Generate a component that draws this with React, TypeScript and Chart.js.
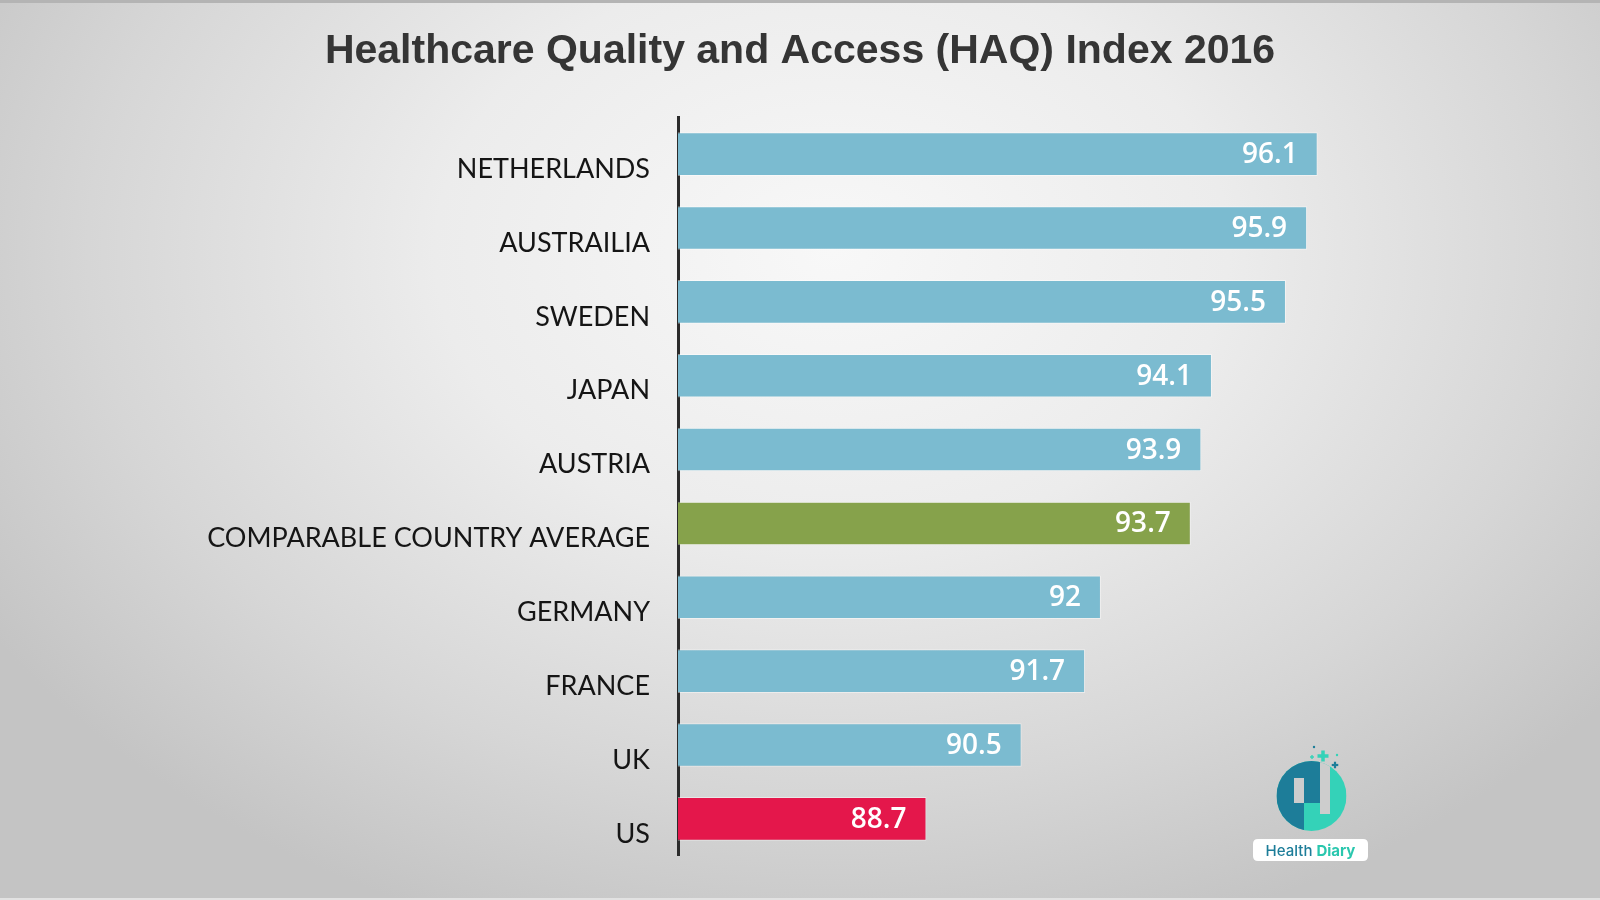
import React, { useEffect, useRef } from "react";
import { Chart, registerables } from "chart.js";

Chart.register(...registerables);

const categories: string[] = [
  "NETHERLANDS",
  "AUSTRAILIA",
  "SWEDEN",
  "JAPAN",
  "AUSTRIA",
  "COMPARABLE COUNTRY AVERAGE",
  "GERMANY",
  "FRANCE",
  "UK",
  "US",
];
const haqValues: number[] = [96.1, 95.9, 95.5, 94.1, 93.9, 93.7, 92, 91.7, 90.5, 88.7];
const valueLabels: string[] = ["96.1", "95.9", "95.5", "94.1", "93.9", "93.7", "92", "91.7", "90.5", "88.7"];
const barColors: string[] = [
  "#7bbbd0",
  "#7bbbd0",
  "#7bbbd0",
  "#7bbbd0",
  "#7bbbd0",
  "#86a24b",
  "#7bbbd0",
  "#7bbbd0",
  "#7bbbd0",
  "#e4174b",
];
const titleText = "Healthcare Quality and Access (HAQ) Index 2016";

const valueLabelPlugin = {
  id: "valueLabels",
  afterDatasetsDraw(chart: any) {
    const ctx = chart.ctx;
    const meta = chart.getDatasetMeta(0);
    ctx.save();
    ctx.font = "600 28px 'Open Sans'";
    ctx.fillStyle = "#ffffff";
    ctx.textAlign = "right";
    ctx.textBaseline = "middle";
    meta.data.forEach((bar: any, i: number) => {
      ctx.fillText(valueLabels[i], bar.x - 20, bar.y + 1);
    });
    ctx.restore();
  },
};

const logoPlugin = {
  id: "logo",
  afterDraw(chart: any) {
    const ctx = chart.ctx;
    const cx = 1311.5;
    const cy = 796;
    const r = 35;
    const dark = "#1d7d99";
    const teal = "#34d2b8";
    const gap = "#cdcdcd";
    ctx.save();
    ctx.beginPath();
    ctx.arc(cx, cy, r, 0, Math.PI * 2);
    ctx.clip();
    ctx.fillStyle = teal;
    ctx.fillRect(cx - r, cy - r, 2 * r, 2 * r);
    ctx.fillStyle = dark;
    ctx.fillRect(cx - r, cy - r, r - 7.5, 2 * r);
    ctx.fillRect(1304, cy - r, 16, 803 - (cy - r));
    ctx.fillStyle = gap;
    ctx.fillRect(1294, 778, 10, 25);
    ctx.fillRect(1320, cy - r, 10, 814 - (cy - r));
    ctx.restore();

    ctx.save();
    const plus = (x: number, y: number, s: number, t: number, c: string) => {
      ctx.fillStyle = c;
      ctx.fillRect(x - s / 2, y - t / 2, s, t);
      ctx.fillRect(x - t / 2, y - s / 2, t, s);
    };
    plus(1323, 756, 11, 3.5, teal);
    plus(1335, 765, 6.5, 2.2, dark);
    plus(1312, 757, 4, 1.4, teal);
    ctx.fillStyle = dark;
    ctx.beginPath();
    ctx.arc(1314, 747, 1.2, 0, Math.PI * 2);
    ctx.fill();
    ctx.fillStyle = teal;
    ctx.beginPath();
    ctx.arc(1337, 755, 1.2, 0, Math.PI * 2);
    ctx.fill();

    const bx = 1253, by = 839, bw = 115, bh = 22, br = 5;
    ctx.fillStyle = "#ffffff";
    ctx.beginPath();
    ctx.moveTo(bx + br, by);
    ctx.lineTo(bx + bw - br, by);
    ctx.quadraticCurveTo(bx + bw, by, bx + bw, by + br);
    ctx.lineTo(bx + bw, by + bh - br);
    ctx.quadraticCurveTo(bx + bw, by + bh, bx + bw - br, by + bh);
    ctx.lineTo(bx + br, by + bh);
    ctx.quadraticCurveTo(bx, by + bh, bx, by + bh - br);
    ctx.lineTo(bx, by + br);
    ctx.quadraticCurveTo(bx, by, bx + br, by);
    ctx.fill();
    ctx.textBaseline = "middle";
    ctx.textAlign = "left";
    ctx.font = "500 15px 'Inter'";
    const w1 = ctx.measureText("Health ").width;
    ctx.font = "700 15px 'Inter'";
    const w2 = ctx.measureText("Diary").width;
    const startX = bx + (bw - w1 - w2) / 2;
    ctx.font = "500 15px 'Inter'";
    ctx.fillStyle = dark;
    ctx.fillText("Health ", startX, by + bh / 2 + 1);
    ctx.font = "700 15px 'Inter'";
    ctx.fillStyle = "#2ac7ae";
    ctx.fillText("Diary", startX + w1, by + bh / 2 + 1);
    ctx.restore();
  },
};

export default function App() {
  const canvasRef = useRef<HTMLCanvasElement | null>(null);

  useEffect(() => {
    if (!canvasRef.current) return;
    const chart = new Chart(canvasRef.current, {
      type: "bar",
      data: {
        labels: categories,
        datasets: [
          {
            data: haqValues,
            backgroundColor: barColors,
            borderColor: "rgba(255,255,255,0.45)",
            borderWidth: 1,
            borderSkipped: "left",
            barPercentage: 0.59,
            categoryPercentage: 1,
          },
        ],
      },
      options: {
        indexAxis: "y",
        animation: false,
        responsive: true,
        maintainAspectRatio: false,
        layout: { padding: { left: 0, right: 0, top: 0, bottom: 39 } },
        plugins: {
          legend: { display: false },
          tooltip: { enabled: false },
          title: {
            display: true,
            text: titleText,
            color: "#353535",
            font: { family: "'Liberation Sans', Arial, sans-serif", size: 41, weight: "bold" },
            padding: { top: 27, bottom: 41 },
          },
        },
        scales: {
          x: {
            type: "linear",
            min: 84,
            max: 101.44,
            display: false,
          },
          y: {
            type: "category",
            grid: { display: false, drawTicks: false },
            border: { display: true, color: "#2b2b2b", width: 3 },
            ticks: {
              color: "#151515",
              font: { family: "Lato", size: 27 },
              padding: 28,
              labelOffset: 15,
            },
            afterFit: (scale: any) => {
              scale.width = 678;
            },
          },
        },
      },
      plugins: [valueLabelPlugin, logoPlugin],
    });
    return () => chart.destroy();
  }, []);

  return (
    <div
      style={{
        position: "absolute",
        left: 0,
        top: 0,
        width: 1600,
        height: 900,
        background:
          "radial-gradient(ellipse 62% 80% at 52% 28%, #f8f8f8 0%, #ececec 40%, #d6d6d6 75%, #c4c4c4 100%)",
      }}
    >
      <canvas ref={canvasRef} style={{ position: "absolute", left: 0, top: 0 }} />
      <div style={{ position: "absolute", left: 0, top: 0, width: 1600, height: 3, background: "#b4b4b4" }} />
      <div style={{ position: "absolute", left: 0, bottom: 0, width: 1600, height: 2, background: "#e2e2e2" }} />
    </div>
  );
}
